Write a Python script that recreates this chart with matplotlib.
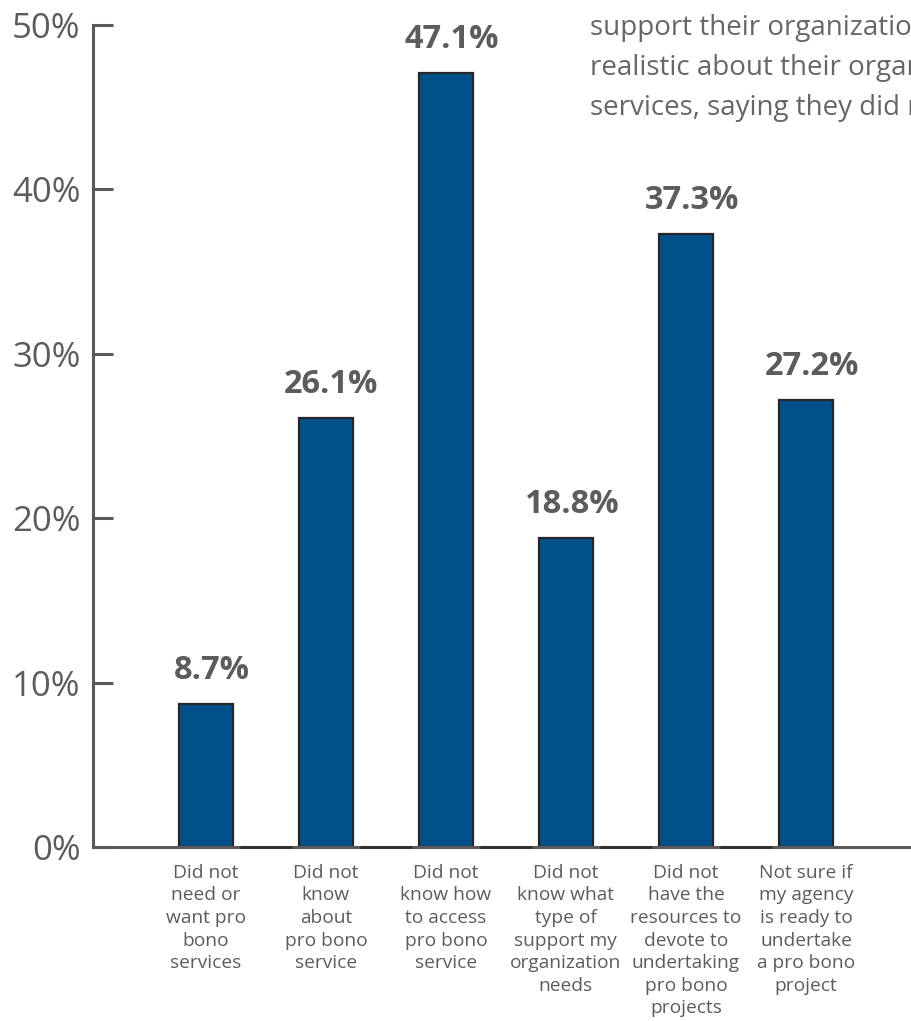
import matplotlib
matplotlib.use("Agg")
import matplotlib.pyplot as plt
from matplotlib.ticker import FuncFormatter

plt.rcParams['font.family'] = ['Open Sans', 'DejaVu Sans']

categories = [
    "Did not\nneed or\nwant pro\nbono\nservices",
    "Did not\nknow\nabout\npro bono\nservice",
    "Did not\nknow how\nto access\npro bono\nservice",
    "Did not\nknow what\ntype of\nsupport my\norganization\nneeds",
    "Did not\nhave the\nresources to\ndevote to\nundertaking\npro bono\nprojects",
    "Not sure if\nmy agency\nis ready to\nundertake\na pro bono\nproject",
]
values = [8.7, 26.1, 47.1, 18.8, 37.3, 27.2]
yticks = [0, 10, 20, 30, 40, 50]
side_text = [
    "support their organization's needs, and many were",
    "realistic about their organization's readiness for",
    "services, saying they did not have the resources",
]

BAR = "#00508a"
EDGE = "#262626"
AXIS = "#5a5a5a"
TEXT = "#5c5c5c"
BAR_W = 0.45

W, H = 911, 1021
fig = plt.figure(figsize=(W / 100, H / 100), dpi=100)
ax = fig.add_axes([93 / W, (H - 847) / H, (W - 93) / W, (847 - 25) / H])

x = list(range(len(values)))
ax.bar(x, values, width=BAR_W, color=BAR, edgecolor=EDGE, linewidth=1.6, zorder=2)

# darker base segments in the gaps between neighbouring bars
gap = 0.06
for a, b in zip(x[:-1], x[1:]):
    ax.plot([a + BAR_W / 2 + gap, b - BAR_W / 2 - gap], [0, 0], color="#2e2e2e",
            lw=2.0, solid_capstyle="butt", zorder=4, clip_on=False)

for xi, v in zip(x, values):
    ax.annotate(f"{v:.1f}%", (xi, v), xytext=(4, 18), textcoords="offset points",
                ha="center", va="baseline", fontsize=23.5, fontweight="bold",
                color=TEXT)

ax.set_xlim(-0.94, 5.875)
ax.set_ylim(0, 50)
ax.set_yticks(yticks)
ax.yaxis.set_major_formatter(FuncFormatter(lambda v, p: f"{v:.0f}%"))
ax.set_xticks(x)
ax.set_xticklabels(categories, fontsize=13.8, color=TEXT, linespacing=1.33)

ax.tick_params(axis="y", direction="in", length=14.5, width=2.2, color=AXIS,
               labelsize=25, labelcolor=TEXT, pad=9)
ax.tick_params(axis="x", length=0, pad=12)

for s in ("top", "right"):
    ax.spines[s].set_visible(False)
ax.spines["left"].set_color(AXIS)
ax.spines["left"].set_linewidth(2.2)
ax.spines["bottom"].set_color(AXIS)
ax.spines["bottom"].set_linewidth(2.2)
ax.spines["left"].set_zorder(3)

for i, line in enumerate(side_text):
    fig.text(590 / W, 1 - (28 + 40 * i) / H, line, fontsize=20, color="#666666",
             ha="left", va="center")

fig.savefig("out.png", dpi=100)
